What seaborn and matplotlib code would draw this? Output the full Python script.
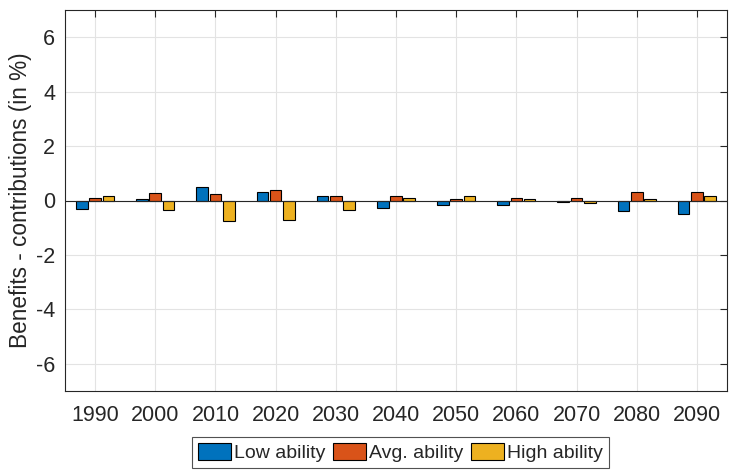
import matplotlib
matplotlib.use("Agg")
import matplotlib.pyplot as plt
import seaborn as sns
import pandas as pd

years = [1990, 2000, 2010, 2020, 2030, 2040, 2050, 2060, 2070, 2080, 2090]
low_ability = [-0.31, 0.06, 0.51, 0.31, 0.18, -0.27, -0.18, -0.16, -0.05, -0.40, -0.48]
avg_ability = [0.11, 0.28, 0.23, 0.37, 0.15, 0.15, 0.04, 0.11, 0.11, 0.31, 0.33]
high_ability = [0.18, -0.34, -0.75, -0.70, -0.34, 0.11, 0.15, 0.06, -0.09, 0.07, 0.15]
groups = ["Low ability", "Avg. ability", "High ability"]
palette = ["#0072BD", "#D95319", "#EDB120"]
y_ticks = [-6, -4, -2, 0, 2, 4, 6]

df = pd.DataFrame({
    "year": years * 3,
    "value": low_ability + avg_ability + high_ability,
    "group": [g for g, s in zip(groups, [low_ability, avg_ability, high_ability]) for _ in s],
})

sns.set_style("white")
plt.rcParams["font.family"] = ["Liberation Sans", "DejaVu Sans"]

fig = plt.figure(figsize=(7.35, 4.71), dpi=100)
ax = fig.add_axes([65 / 735, 1 - 391 / 471, 662 / 735, 381 / 471])

sns.barplot(data=df, x="year", y="value", hue="group", hue_order=groups,
            palette=palette, width=0.66, gap=0.12, saturation=1,
            edgecolor="black", linewidth=0.8, ax=ax, zorder=3)

ax.axhline(0, color="#262626", lw=0.8, zorder=4)
ax.set_ylim(-7, 7)
ax.set_xlim(-0.5, len(years) - 0.5)
ax.set_yticks(y_ticks)
ax.set_yticklabels([str(t) for t in y_ticks])
ax.set_xlabel("")
ax.set_ylabel("Benefits - contributions (in %)", fontsize=16.3, color="#262626",
              labelpad=3)
ax.grid(True, color="#e3e3e3", lw=0.8, zorder=0)
ax.set_axisbelow(True)
ax.tick_params(direction="in", length=5, width=0.8, colors="#262626",
               labelsize=15.5, top=True, right=True)
ax.tick_params(axis="x", pad=10)
ax.tick_params(axis="y", pad=7)
for s in ax.spines.values():
    s.set_color("#262626")
    s.set_linewidth(0.8)

leg = ax.legend(loc="upper center", bbox_to_anchor=(0.507, -0.12), ncol=3,
                frameon=True, fancybox=False, edgecolor="#262626",
                fontsize=14, handlelength=1.7, handleheight=1.0,
                handletextpad=0.15, columnspacing=0.4, borderpad=0.3,
                borderaxespad=0)
leg.get_frame().set_linewidth(0.8)
for h in leg.legend_handles:
    h.set_edgecolor("black")

fig.savefig("out.png", dpi=100)
